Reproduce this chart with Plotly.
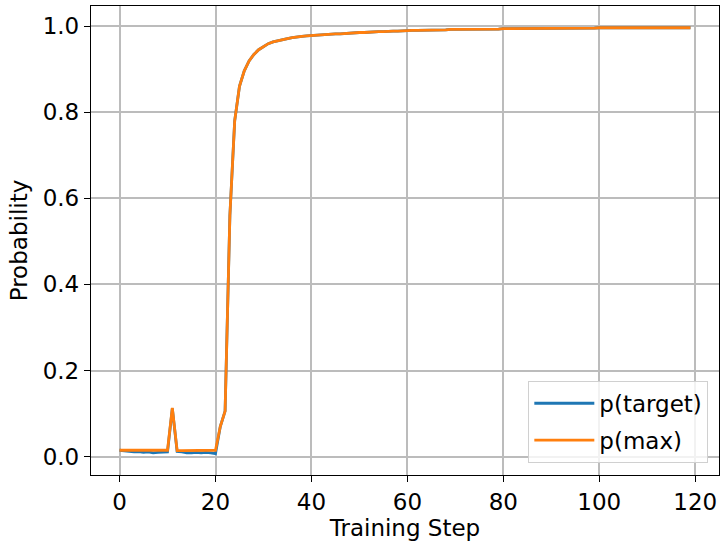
import plotly.graph_objects as go

# Early phase (steps 0-20): the two probabilities differ slightly
early_p_target = [0.015, 0.014, 0.013, 0.011, 0.012, 0.010, 0.011, 0.009, 0.010, 0.010,
                  0.011, 0.112, 0.012, 0.011, 0.009, 0.009, 0.010, 0.009, 0.010, 0.009,
                  0.007]
early_p_max = [0.015, 0.015, 0.016, 0.016, 0.016, 0.016, 0.016, 0.015, 0.015, 0.015,
               0.015, 0.113, 0.014, 0.014, 0.014, 0.014, 0.015, 0.015, 0.015, 0.015,
               0.015]

# Later phase (steps 21-119): target token is the max token, both curves coincide
late_shared = [0.070, 0.106, 0.560, 0.780, 0.860, 0.896, 0.919, 0.934, 0.945,
               0.953, 0.959, 0.963, 0.966, 0.969, 0.971, 0.973, 0.975, 0.976, 0.977,
               0.978, 0.979, 0.980, 0.980, 0.981, 0.982, 0.982, 0.983, 0.984, 0.984,
               0.985, 0.985, 0.986, 0.986, 0.987, 0.987, 0.988, 0.988, 0.988, 0.989,
               0.989, 0.990, 0.990, 0.990, 0.990, 0.991, 0.991, 0.991, 0.991, 0.992,
               0.992, 0.992, 0.992, 0.992, 0.993, 0.993, 0.993, 0.993, 0.993, 0.993,
               0.994, 0.994, 0.994, 0.994, 0.994, 0.994, 0.994, 0.994, 0.994, 0.994,
               0.995, 0.995, 0.995, 0.995, 0.995, 0.995, 0.995, 0.995, 0.995, 0.995,
               0.996, 0.996, 0.996, 0.996, 0.996, 0.996, 0.996, 0.996, 0.996, 0.996,
               0.996, 0.996, 0.996, 0.996, 0.996, 0.996, 0.996, 0.996, 0.996, 0.996]

p_target = early_p_target + late_shared
p_max = early_p_max + late_shared
steps = list(range(len(p_max)))  # training steps 0..119

x_ticks = [0, 20, 40, 60, 80, 100, 120]
y_ticks = [0.0, 0.2, 0.4, 0.6, 0.8, 1.0]
y_ticklabels = ["0.0", "0.2", "0.4", "0.6", "0.8", "1.0"]

FONT = "DejaVu Sans"

fig = go.Figure()
fig.add_trace(go.Scatter(x=steps, y=p_target, mode="lines", name="p(target)",
                         line=dict(color="#1f77b4", width=2.8), legendgroup="a"))
fig.add_trace(go.Scatter(x=steps, y=p_max, mode="lines", name="p(max)",
                         line=dict(color="#ff7f0e", width=2.8), legendgroup="b"))

axis_common = dict(
    showline=True, linecolor="black", linewidth=1.3, mirror=True,
    ticks="outside", ticklen=6, tickwidth=1.3, tickcolor="black",
    showgrid=True, gridcolor="#bcbcbc", gridwidth=1.5, zeroline=False,
    tickfont=dict(family=FONT, size=23, color="black"),
)

fig.update_layout(
    width=721, height=546,
    margin=dict(l=91, r=1.5, t=6, b=71),
    paper_bgcolor="white", plot_bgcolor="white",
    font=dict(family=FONT, size=23, color="black"),
    xaxis=dict(range=[-5.95, 124.95], tickvals=x_ticks,
               title=dict(text="Training Step", font=dict(family=FONT, size=23), standoff=6),
               **axis_common),
    yaxis=dict(range=[-0.0425, 1.0465], tickvals=y_ticks, ticktext=y_ticklabels,
               title=dict(text="Probability", font=dict(family=FONT, size=23), standoff=8),
               **axis_common),
    legend=dict(x=0.983, y=0.026, xanchor="right", yanchor="bottom",
                bgcolor="rgba(255,255,255,0.8)", bordercolor="#d0d0d0", borderwidth=1,
                font=dict(family=FONT, size=23, color="black"),
                traceorder="grouped", tracegroupgap=4, itemwidth=60),
    showlegend=True,
)

fig.write_html("out.html")
